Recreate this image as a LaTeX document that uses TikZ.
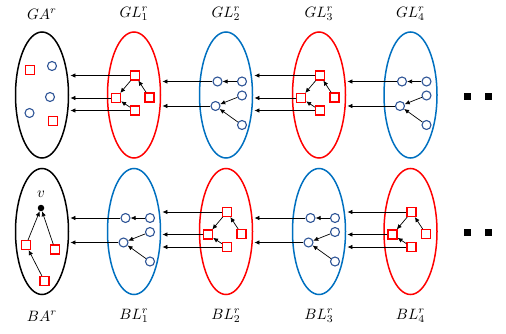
\documentclass[tikz,border=0pt]{standalone}
\usetikzlibrary{arrows.meta,shapes.geometric}
\definecolor{ered}{RGB}{255,0,0}
\definecolor{eblue}{RGB}{0,112,192}
\definecolor{cblue}{RGB}{47,85,151}

\tikzset{
  grp/.style={ellipse, draw=#1, line width=1.5pt, minimum width=53pt, minimum height=126pt, inner sep=0pt},
  sq/.style={draw=ered, line width=1.1pt, minimum size=9pt, inner sep=0pt, fill=white},
  cir/.style={circle, draw=cblue, line width=1.1pt, minimum size=9pt, inner sep=0pt, fill=white},
  arr/.style={-{Latex[length=5pt,width=4.5pt]}, line width=0.7pt},
  harr/.style={arr, shorten >=1.2pt},
  lbl/.style={inner sep=0pt, scale=1.5, transform shape},
  blk/.style={fill=black, minimum size=7pt, inner sep=0pt},
  vdot/.style={circle, fill=black, minimum size=6.5pt, inner sep=0pt},
}

% red squares of one layer: A top, B left, C right, D bottom
\newcommand\sqlayer[3]{%
  \node[sq] (#1A) at (#2+1,  #3-19.5) {};
  \node[sq] (#1B) at (#2-18, #3+3) {};
  \node[sq] (#1C) at (#2+15.5,#3+2.5) {};
  \node[sq] (#1D) at (#2+1,  #3+15.5) {};
  \draw[arr] (#1A) -- (#1B);
  \draw[arr] (#1C) -- (#1A);
  \draw[arr] (#1D) -- (#1B);
}
% blue circles of one layer: a, b top row; c, d middle; e bottom
\newcommand\cirlayer[3]{%
  \node[cir] (#1a) at (#2-8.5, #3-13.5) {};
  \node[cir] (#1b) at (#2+16,  #3-13.5) {};
  \node[cir] (#1c) at (#2+16,  #3+0.5) {};
  \node[cir] (#1d) at (#2-10.5,#3+11) {};
  \node[cir] (#1e) at (#2+16,  #3+30) {};
  \draw[arr] (#1b) -- (#1a);
  \draw[arr] (#1c) -- (#1d);
  \draw[arr] (#1e) -- (#1d);
}

\begin{document}
\begin{tikzpicture}[x=1pt,y=-1pt]
\useasboundingbox (0,0) rectangle (506,334);

% ---------- upper row ----------
\node[grp=black] (ga) at (42,95) {};
\node[grp=ered]  (gl1) at (134,95) {};
\node[grp=eblue] (gl2) at (226,95) {};
\node[grp=ered]  (gl3) at (319,95) {};
\node[grp=eblue] (gl4) at (410.5,95) {};

\node[lbl] (tga)  at (42,14)  {$GA^r$};
\node[lbl] (tgl1) at (134,14) {$GL^r_1$};
\node[lbl] (tgl2) at (226,14) {$GL^r_2$};
\node[lbl] (tgl3) at (319,14) {$GL^r_3$};
\node[lbl] (tgl4) at (410.5,14) {$GL^r_4$};

\node[sq]  (g1) at (30,70) {};
\node[cir] (g2) at (52,66) {};
\node[cir] (g3) at (50,97) {};
\node[cir] (g4) at (29.5,113) {};
\node[sq]  (g5) at (53,121) {};

\sqlayer{p}{134}{95}
\cirlayer{q}{226}{95}
\sqlayer{r}{319}{95}
\cirlayer{s}{410.5}{95}

\foreach \n in {A,B,D}{
  \draw[harr] (p\n.west) -- (p\n.west -| ga.east);
  \draw[harr] (r\n.west) -- (r\n.west -| gl2.east);
}
\foreach \n in {a,d}{
  \draw[harr] (q\n.west) -- (q\n.west -| gl1.east);
  \draw[harr] (s\n.west) -- (s\n.west -| gl3.east);
}

\node[blk] (gdot1) at (467.5,96.5) {};
\node[blk] (gdot2) at (488,96.5) {};

% ---------- lower row ----------
\node[grp=black] (ba) at (42,231.5) {};
\node[grp=eblue] (bl1) at (134,231.5) {};
\node[grp=ered]  (bl2) at (226,231.5) {};
\node[grp=eblue] (bl3) at (319,231.5) {};
\node[grp=ered]  (bl4) at (410.5,231.5) {};

\node[lbl] (tba)  at (42,316)  {$BA^r$};
\node[lbl] (tbl1) at (134,316) {$BL^r_1$};
\node[lbl] (tbl2) at (226,316) {$BL^r_2$};
\node[lbl] (tbl3) at (319,316) {$BL^r_3$};
\node[lbl] (tbl4) at (410.5,316) {$BL^r_4$};

\node[vdot] (v) at (41,208) {};
\node[lbl] (tv) at (41,194.5) {$v$};
\node[sq] (b1) at (26,245) {};
\node[sq] (b2) at (55,249.5) {};
\node[sq] (b3) at (44.5,281) {};
\draw[arr] (b1) -- (v);
\draw[arr] (b2) -- (v);
\draw[arr] (b3) -- (b1);

\cirlayer{h}{134}{231.5}
\sqlayer{k}{226}{231.5}
\cirlayer{m}{319}{231.5}
\sqlayer{n}{410.5}{231.5}

\foreach \n in {a,d}{
  \draw[harr] (h\n.west) -- (h\n.west -| ba.east);
  \draw[harr] (m\n.west) -- (m\n.west -| bl2.east);
}
\foreach \n in {A,B,D}{
  \draw[harr] (k\n.west) -- (k\n.west -| bl1.east);
  \draw[harr] (n\n.west) -- (n\n.west -| bl3.east);
}

\node[blk] (bdot1) at (467.5,232.5) {};
\node[blk] (bdot2) at (488,232.5) {};
\end{tikzpicture}
\end{document}
